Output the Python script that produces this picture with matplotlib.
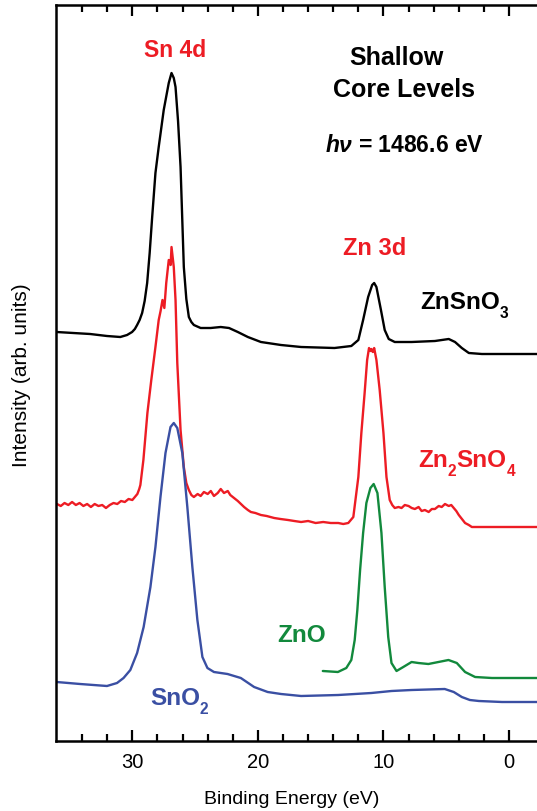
import matplotlib
matplotlib.use("Agg")
import matplotlib.pyplot as plt

plt.rcParams['font.family'] = ['Liberation Sans', 'DejaVu Sans']
plt.rcParams['mathtext.fontset'] = 'custom'
plt.rcParams['mathtext.rm'] = 'Liberation Sans:bold'
plt.rcParams['mathtext.it'] = 'Liberation Sans:italic:bold'
plt.rcParams['mathtext.bf'] = 'Liberation Sans:bold'

# ---- data (binding energy in eV, intensity in arb. units) ----
znsno3_be = [36.03, 34.7, 33.36, 32.02, 30.96, 30.42, 30.02, 29.8, 29.62, 29.42, 29.22, 29.02,
             28.82, 28.62, 28.42, 28.16, 27.9, 27.5, 27.1, 26.88, 26.7, 26.56, 26.36, 26.16,
             25.9, 25.7, 25.5, 25.3, 25.1, 24.56, 23.76, 22.96,
             22.3, 21.6, 20.8, 19.76, 18.16, 16.56, 13.9, 12.56, 12.0, 11.62, 11.22, 10.9,
             10.74, 10.56, 10.2, 9.9, 9.58, 9.1, 7.76, 5.9, 4.8, 4.3, 3.76, 3.2, 2.16, -2.4]
znsno3_int = [409, 408, 407, 405, 404, 406, 409, 412, 416, 421, 428, 440,
              458, 488, 524, 568, 594, 631, 658, 668, 663, 654, 620, 574,
              474, 442, 424, 419, 416, 413, 413, 414,
              413, 409, 404, 399, 396, 394, 393, 395, 401, 421, 444, 456,
              458, 454, 431, 411, 402, 399, 399, 400, 402, 399, 393, 388, 387, 387]

zn2sno4_be = [36.0, 35.7, 35.4, 35.1, 34.8, 34.5, 34.2, 33.9, 33.6, 33.3, 33.0, 32.7,
              32.4, 32.1, 31.8, 31.5, 31.2, 30.9, 30.6, 30.3, 30.0, 29.8, 29.6, 29.45,
              29.36, 29.12, 28.8, 28.5, 28.16, 27.9, 27.75, 27.6, 27.45, 27.3, 27.1, 26.95,
              26.88, 26.7, 26.56, 26.42, 26.16, 25.9, 25.7, 25.5, 25.3, 25.1, 24.8, 24.56,
              24.3, 24.0, 23.75, 23.5, 23.2, 22.96, 22.7, 22.4, 22.2, 22.0, 21.6, 21.1,
              20.8, 20.56, 20.2, 19.76, 19.3, 18.7, 18.2, 17.6, 17.1, 16.56, 16.0, 15.4,
              14.8, 14.2, 13.6, 13.2, 12.8, 12.4, 12.0, 11.76, 11.5, 11.3, 11.15, 11.05,
              10.96, 10.85, 10.74, 10.56, 10.3, 10.0, 9.76, 9.5, 9.3, 9.1, 8.8, 8.56,
              8.3, 8.0, 7.75, 7.5, 7.2, 6.96, 6.7, 6.4, 6.15, 5.9, 5.6, 5.36,
              5.1, 4.8, 4.6, 4.4, 4.2, 4.0, 3.75, 3.5, 3.2, 2.96, 2.0, 0.5, -2.4]
zn2sno4_int = [237, 235, 238, 236, 239, 236, 238, 235, 237, 234, 237, 235,
               236, 233, 236, 238, 237, 240, 239, 242, 241, 244, 247, 252,
               256, 281, 328, 360, 394, 421, 430, 441, 433, 458, 481, 476,
               494, 474, 441, 378, 311, 274, 258, 251, 246, 244, 247, 245,
               249, 247, 250, 245, 248, 252, 248, 250, 246, 244, 240, 234,
               231, 229, 228, 226, 225, 223, 222, 221, 220, 219, 220, 218,
               219, 218, 218, 217, 218, 224, 264, 308, 348, 381, 393, 390,
               392, 389, 393, 381, 351, 308, 264, 241, 236, 233, 234, 233,
               236, 235, 233, 232, 234, 230, 231, 229, 232, 232, 235, 234,
               237, 235, 236, 233, 230, 226, 222, 218, 216, 214, 214, 214, 214]

sno2_be = [36.03, 34.16, 32.02, 31.22, 30.7, 30.16, 29.62, 29.1, 28.56, 28.16, 27.76, 27.36,
           26.96, 26.7, 26.42, 26.02, 25.62, 25.22, 24.82, 24.42, 24.02, 23.5, 22.42, 21.36,
           20.3, 19.22, 18.16, 16.56, 13.6, 10.96, 9.36, 7.76, 5.12, 4.4, 3.76, 3.12,
           2.4, 0.56, -2.4]
sno2_int = [59, 57, 55, 58, 63, 71, 88, 114, 154, 194, 244, 288,
            314, 318, 313, 288, 234, 174, 121, 84, 73, 69, 67, 63,
            54, 49, 47, 45, 46, 48, 50, 51, 52, 49, 44, 41,
            40, 39, 39]

zno_be = [14.83, 13.63, 12.96, 12.56, 12.29, 12.08, 11.86, 11.62, 11.36, 11.04, 10.78, 10.48,
          10.16, 9.9, 9.62, 9.36, 8.96, 8.42, 7.76, 7.22, 6.42, 5.62, 4.82, 4.16,
          3.5, 2.7, 1.36, -2.4]
zno_int = [70, 69, 73, 81, 101, 131, 171, 208, 238, 253, 257, 248,
           208, 154, 104, 78, 70, 74, 79, 78, 77, 79, 81, 78,
           69, 64, 63, 63]

series = [
    (znsno3_be, znsno3_int, '#000000'),
    (zn2sno4_be, zn2sno4_int, '#ED1C24'),
    (sno2_be, sno2_int, '#3A4FA3'),
    (zno_be, zno_int, '#12893C'),
]

W, H = 537, 811
fig = plt.figure(figsize=(W / 100, H / 100), dpi=100)
ax = fig.add_axes([56 / W, 1 - 741 / H, (W - 56) / W + 0.004, (741 - 5) / H])

for be, inten, col in series:
    ax.plot(be, inten, color=col, lw=1.7, solid_joinstyle='round', solid_capstyle='round')

ax.set_xlim(36.08, -2.4)
ax.set_ylim(0, 736)
ax.set_xticks([30, 20, 10, 0])
ax.set_xticks(range(34, -2, -2), minor=True)
ax.set_yticks([])
ax.tick_params(axis='x', which='both', direction='in', top=True, labelsize=14.5, pad=9)
ax.tick_params(axis='x', which='major', length=8, width=1.6)
ax.tick_params(axis='x', which='minor', length=5, width=1.6)
for s in ax.spines.values():
    s.set_linewidth(1.8)

fig.text(292 / W, 1 - 804 / H, 'Binding Energy (eV)', ha='center', va='baseline', fontsize=14)
fig.text(22 / W, 1 - 375 / H, 'Intensity (arb. units)', ha='center', va='center',
         rotation=90, fontsize=15)

renderer = fig.canvas.get_renderer()


def label(x, y, s, color, ha='center', size=16):
    fig.text(x / W, 1 - y / H, s, ha=ha, va='baseline', color=color, fontsize=size,
             fontweight='bold')


def formula(x, y, pieces, color, size):
    """pieces: list of (text, is_subscript); x,y = left/baseline in pixels."""
    cx = x
    for txt, sub in pieces:
        fs = size * 0.64 if sub else size
        dy = 9 if sub else 0
        t = fig.text(cx / W, 1 - (y + dy) / H, txt, ha='left', va='baseline', color=color,
                     fontsize=fs, fontweight='bold')
        bb = t.get_window_extent(renderer)
        cx += bb.width


label(175, 57, 'Sn 4d', '#ED1C24', size=16.5)
label(396, 65, 'Shallow', '#000000', size=18)
label(404, 97, 'Core Levels', '#000000', size=18)
label(404, 152, r'$h\nu$ = 1486.6 eV', '#000000', size=16.5)
label(375, 255, 'Zn 3d', '#ED1C24', size=17)
formula(420, 309, [('ZnSnO', False), ('3', True)], '#000000', 17.5)
formula(418, 467, [('Zn', False), ('2', True), ('SnO', False), ('4', True)], '#ED1C24', 17.5)
formula(277, 642, [('ZnO', False)], '#12893C', 17.5)
formula(150, 705, [('SnO', False), ('2', True)], '#3A4FA3', 17.5)

fig.savefig('out.png', dpi=100)
